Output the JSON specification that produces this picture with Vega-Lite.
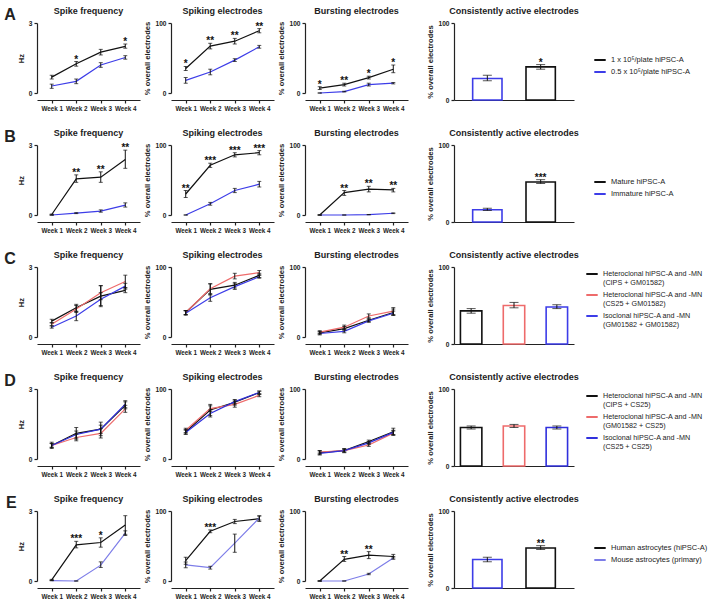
{
"$schema":"https://vega.github.io/schema/vega-lite/v6.json",
"padding":{"left":4,"top":7,"right":2,"bottom":2},
"config":{"font":"Liberation Sans","view":{"stroke":null},
"axis":{"grid":false,"domainColor":"#222","tickColor":"#222","labelColor":"#222","titleColor":"#222","labelFontSize":6.6,"labelFontWeight":"bold","titleFontSize":7.6,"titleFontWeight":"bold","tickSize":3,"domainWidth":1.2,"tickWidth":1.2,"labelPadding":2,"titlePadding":3},
"axisX":{"labelAngle":0,"labelFontSize":6.3},
"title":{"fontSize":9,"fontWeight":"bold","offset":4,"color":"#222","frame":"group"},
"legend":{"symbolType":"stroke","symbolStrokeWidth":2,"symbolSize":130,"labelFontSize":7.5,"labelColor":"#222","title":null,"offset":14,"rowPadding":1,"labelLimit":200}},
"resolve":{"scale":{"stroke":"independent","color":"independent"},"legend":{"stroke":"independent","color":"independent"}},
"spacing":17,
"datasets":{
"A":[
{"m":"f","s":"1 x 10⁵/plate hiPSC-A","w":"Week 1","v":0.68,"lo":0.6,"hi":0.76,"sig":""},
{"m":"f","s":"1 x 10⁵/plate hiPSC-A","w":"Week 2","v":1.25,"lo":1.15,"hi":1.35,"sig":"*"},
{"m":"f","s":"1 x 10⁵/plate hiPSC-A","w":"Week 3","v":1.75,"lo":1.63,"hi":1.87,"sig":""},
{"m":"f","s":"1 x 10⁵/plate hiPSC-A","w":"Week 4","v":2.0,"lo":1.92,"hi":2.1,"sig":"*"},
{"m":"f","s":"0.5 x 10⁵/plate hiPSC-A","w":"Week 1","v":0.3,"lo":0.2,"hi":0.38,"sig":""},
{"m":"f","s":"0.5 x 10⁵/plate hiPSC-A","w":"Week 2","v":0.5,"lo":0.4,"hi":0.6,"sig":""},
{"m":"f","s":"0.5 x 10⁵/plate hiPSC-A","w":"Week 3","v":1.2,"lo":1.1,"hi":1.3,"sig":""},
{"m":"f","s":"0.5 x 10⁵/plate hiPSC-A","w":"Week 4","v":1.52,"lo":1.45,"hi":1.6,"sig":""},
{"m":"p","s":"1 x 10⁵/plate hiPSC-A","w":"Week 1","v":35,"lo":32,"hi":38,"sig":"*"},
{"m":"p","s":"1 x 10⁵/plate hiPSC-A","w":"Week 2","v":67,"lo":63,"hi":71,"sig":"**"},
{"m":"p","s":"1 x 10⁵/plate hiPSC-A","w":"Week 3","v":74,"lo":70,"hi":78,"sig":"**"},
{"m":"p","s":"1 x 10⁵/plate hiPSC-A","w":"Week 4","v":89,"lo":86,"hi":92,"sig":"**"},
{"m":"p","s":"0.5 x 10⁵/plate hiPSC-A","w":"Week 1","v":18,"lo":14,"hi":22,"sig":""},
{"m":"p","s":"0.5 x 10⁵/plate hiPSC-A","w":"Week 2","v":30,"lo":26,"hi":34,"sig":""},
{"m":"p","s":"0.5 x 10⁵/plate hiPSC-A","w":"Week 3","v":47,"lo":45,"hi":49,"sig":""},
{"m":"p","s":"0.5 x 10⁵/plate hiPSC-A","w":"Week 4","v":66,"lo":64,"hi":68,"sig":""},
{"m":"b","s":"1 x 10⁵/plate hiPSC-A","w":"Week 1","v":7,"lo":5,"hi":9,"sig":"*"},
{"m":"b","s":"1 x 10⁵/plate hiPSC-A","w":"Week 2","v":12,"lo":10,"hi":14,"sig":"**"},
{"m":"b","s":"1 x 10⁵/plate hiPSC-A","w":"Week 3","v":22,"lo":20,"hi":24,"sig":"*"},
{"m":"b","s":"1 x 10⁵/plate hiPSC-A","w":"Week 4","v":34,"lo":29,"hi":40,"sig":"*"},
{"m":"b","s":"0.5 x 10⁵/plate hiPSC-A","w":"Week 1","v":0,"lo":0,"hi":0,"sig":""},
{"m":"b","s":"0.5 x 10⁵/plate hiPSC-A","w":"Week 2","v":2,"lo":1.5,"hi":2.5,"sig":""},
{"m":"b","s":"0.5 x 10⁵/plate hiPSC-A","w":"Week 3","v":12,"lo":10,"hi":14,"sig":""},
{"m":"b","s":"0.5 x 10⁵/plate hiPSC-A","w":"Week 4","v":14,"lo":13,"hi":15,"sig":""}],
"Ab":[
{"s":"0.5 x 10⁵/plate hiPSC-A","v":28,"lo":25,"hi":32,"sig":""},
{"s":"1 x 10⁵/plate hiPSC-A","v":43,"lo":40,"hi":46,"sig":"*"}],
"B":[
{"m":"f","s":"Mature hiPSC-A","w":"Week 1","v":0.02,"lo":0,"hi":0.04,"sig":""},
{"m":"f","s":"Mature hiPSC-A","w":"Week 2","v":1.55,"lo":1.4,"hi":1.72,"sig":"**"},
{"m":"f","s":"Mature hiPSC-A","w":"Week 3","v":1.62,"lo":1.4,"hi":1.85,"sig":"**"},
{"m":"f","s":"Mature hiPSC-A","w":"Week 4","v":2.38,"lo":2.0,"hi":2.78,"sig":"**"},
{"m":"f","s":"Immature hiPSC-A","w":"Week 1","v":0,"lo":0,"hi":0,"sig":""},
{"m":"f","s":"Immature hiPSC-A","w":"Week 2","v":0.08,"lo":0.06,"hi":0.1,"sig":""},
{"m":"f","s":"Immature hiPSC-A","w":"Week 3","v":0.17,"lo":0.12,"hi":0.22,"sig":""},
{"m":"f","s":"Immature hiPSC-A","w":"Week 4","v":0.42,"lo":0.34,"hi":0.52,"sig":""},
{"m":"p","s":"Mature hiPSC-A","w":"Week 1","v":30,"lo":25,"hi":35,"sig":"**"},
{"m":"p","s":"Mature hiPSC-A","w":"Week 2","v":71,"lo":68,"hi":74,"sig":"***"},
{"m":"p","s":"Mature hiPSC-A","w":"Week 3","v":86,"lo":83,"hi":89,"sig":"***"},
{"m":"p","s":"Mature hiPSC-A","w":"Week 4","v":89,"lo":86,"hi":92,"sig":"***"},
{"m":"p","s":"Immature hiPSC-A","w":"Week 1","v":0,"lo":0,"hi":0,"sig":""},
{"m":"p","s":"Immature hiPSC-A","w":"Week 2","v":16,"lo":14,"hi":18,"sig":""},
{"m":"p","s":"Immature hiPSC-A","w":"Week 3","v":35,"lo":32,"hi":38,"sig":""},
{"m":"p","s":"Immature hiPSC-A","w":"Week 4","v":44,"lo":40,"hi":48,"sig":""},
{"m":"b","s":"Mature hiPSC-A","w":"Week 1","v":0,"lo":0,"hi":0,"sig":""},
{"m":"b","s":"Mature hiPSC-A","w":"Week 2","v":32,"lo":28,"hi":35,"sig":"**"},
{"m":"b","s":"Mature hiPSC-A","w":"Week 3","v":37,"lo":33,"hi":41,"sig":"**"},
{"m":"b","s":"Mature hiPSC-A","w":"Week 4","v":36,"lo":33,"hi":38,"sig":"**"},
{"m":"b","s":"Immature hiPSC-A","w":"Week 1","v":0,"lo":0,"hi":0,"sig":""},
{"m":"b","s":"Immature hiPSC-A","w":"Week 2","v":0,"lo":0,"hi":0,"sig":""},
{"m":"b","s":"Immature hiPSC-A","w":"Week 3","v":0.5,"lo":0.3,"hi":0.7,"sig":""},
{"m":"b","s":"Immature hiPSC-A","w":"Week 4","v":2.5,"lo":2,"hi":3,"sig":""}],
"Bb":[
{"s":"Immature hiPSC-A","v":16,"lo":15,"hi":18,"sig":""},
{"s":"Mature hiPSC-A","v":52,"lo":50,"hi":55,"sig":"***"}],
"C":[
{"m":"f","s":"Heteroclonal hiPSC-A and -MN (CIPS + GM01582)","w":"Week 1","v":0.68,"lo":0.6,"hi":0.76},
{"m":"f","s":"Heteroclonal hiPSC-A and -MN (CIPS + GM01582)","w":"Week 2","v":1.25,"lo":1.1,"hi":1.4},
{"m":"f","s":"Heteroclonal hiPSC-A and -MN (CIPS + GM01582)","w":"Week 3","v":1.75,"lo":1.3,"hi":2.2},
{"m":"f","s":"Heteroclonal hiPSC-A and -MN (CIPS + GM01582)","w":"Week 4","v":2.0,"lo":1.9,"hi":2.12},
{"m":"f","s":"Heteroclonal hiPSC-A and -MN (CS25 + GM01582)","w":"Week 1","v":0.55,"lo":0.48,"hi":0.62},
{"m":"f","s":"Heteroclonal hiPSC-A and -MN (CS25 + GM01582)","w":"Week 2","v":1.2,"lo":1.05,"hi":1.35},
{"m":"f","s":"Heteroclonal hiPSC-A and -MN (CS25 + GM01582)","w":"Week 3","v":1.9,"lo":1.6,"hi":2.2},
{"m":"f","s":"Heteroclonal hiPSC-A and -MN (CS25 + GM01582)","w":"Week 4","v":2.38,"lo":2.1,"hi":2.65},
{"m":"f","s":"Isoclonal hiPSC-A and -MN (GM01582 + GM01582)","w":"Week 1","v":0.42,"lo":0.38,"hi":0.48},
{"m":"f","s":"Isoclonal hiPSC-A and -MN (GM01582 + GM01582)","w":"Week 2","v":0.9,"lo":0.7,"hi":1.1},
{"m":"f","s":"Isoclonal hiPSC-A and -MN (GM01582 + GM01582)","w":"Week 3","v":1.62,"lo":1.35,"hi":1.9},
{"m":"f","s":"Isoclonal hiPSC-A and -MN (GM01582 + GM01582)","w":"Week 4","v":2.18,"lo":2.05,"hi":2.3},
{"m":"p","s":"Heteroclonal hiPSC-A and -MN (CIPS + GM01582)","w":"Week 1","v":35,"lo":32,"hi":38},
{"m":"p","s":"Heteroclonal hiPSC-A and -MN (CIPS + GM01582)","w":"Week 2","v":68,"lo":60,"hi":76},
{"m":"p","s":"Heteroclonal hiPSC-A and -MN (CIPS + GM01582)","w":"Week 3","v":74,"lo":70,"hi":78},
{"m":"p","s":"Heteroclonal hiPSC-A and -MN (CIPS + GM01582)","w":"Week 4","v":88,"lo":85,"hi":91},
{"m":"p","s":"Heteroclonal hiPSC-A and -MN (CS25 + GM01582)","w":"Week 1","v":35,"lo":32,"hi":38},
{"m":"p","s":"Heteroclonal hiPSC-A and -MN (CS25 + GM01582)","w":"Week 2","v":69,"lo":62,"hi":76},
{"m":"p","s":"Heteroclonal hiPSC-A and -MN (CS25 + GM01582)","w":"Week 3","v":87,"lo":83,"hi":91},
{"m":"p","s":"Heteroclonal hiPSC-A and -MN (CS25 + GM01582)","w":"Week 4","v":92,"lo":89,"hi":95},
{"m":"p","s":"Isoclonal hiPSC-A and -MN (GM01582 + GM01582)","w":"Week 1","v":34,"lo":31,"hi":37},
{"m":"p","s":"Isoclonal hiPSC-A and -MN (GM01582 + GM01582)","w":"Week 2","v":56,"lo":51,"hi":61},
{"m":"p","s":"Isoclonal hiPSC-A and -MN (GM01582 + GM01582)","w":"Week 3","v":72,"lo":68,"hi":76},
{"m":"p","s":"Isoclonal hiPSC-A and -MN (GM01582 + GM01582)","w":"Week 4","v":86,"lo":84,"hi":88},
{"m":"b","s":"Heteroclonal hiPSC-A and -MN (CIPS + GM01582)","w":"Week 1","v":6,"lo":4,"hi":8},
{"m":"b","s":"Heteroclonal hiPSC-A and -MN (CIPS + GM01582)","w":"Week 2","v":12,"lo":10,"hi":15},
{"m":"b","s":"Heteroclonal hiPSC-A and -MN (CIPS + GM01582)","w":"Week 3","v":24,"lo":22,"hi":27},
{"m":"b","s":"Heteroclonal hiPSC-A and -MN (CIPS + GM01582)","w":"Week 4","v":35,"lo":31,"hi":40},
{"m":"b","s":"Heteroclonal hiPSC-A and -MN (CS25 + GM01582)","w":"Week 1","v":7,"lo":5,"hi":9},
{"m":"b","s":"Heteroclonal hiPSC-A and -MN (CS25 + GM01582)","w":"Week 2","v":14,"lo":11,"hi":17},
{"m":"b","s":"Heteroclonal hiPSC-A and -MN (CS25 + GM01582)","w":"Week 3","v":30,"lo":27,"hi":33},
{"m":"b","s":"Heteroclonal hiPSC-A and -MN (CS25 + GM01582)","w":"Week 4","v":37,"lo":32,"hi":42},
{"m":"b","s":"Isoclonal hiPSC-A and -MN (GM01582 + GM01582)","w":"Week 1","v":5,"lo":3,"hi":7},
{"m":"b","s":"Isoclonal hiPSC-A and -MN (GM01582 + GM01582)","w":"Week 2","v":8,"lo":6,"hi":10},
{"m":"b","s":"Isoclonal hiPSC-A and -MN (GM01582 + GM01582)","w":"Week 3","v":23,"lo":21,"hi":25},
{"m":"b","s":"Isoclonal hiPSC-A and -MN (GM01582 + GM01582)","w":"Week 4","v":34,"lo":31,"hi":37}],
"Cb":[
{"s":"Heteroclonal hiPSC-A and -MN (CIPS + GM01582)","v":43,"lo":40,"hi":46},
{"s":"Heteroclonal hiPSC-A and -MN (CS25 + GM01582)","v":50,"lo":47,"hi":54},
{"s":"Isoclonal hiPSC-A and -MN (GM01582 + GM01582)","v":48,"lo":46,"hi":51}],
"D":[
{"m":"f","s":"Heteroclonal hiPSC-A and -MN (CIPS + CS25)","w":"Week 1","v":0.58,"lo":0.45,"hi":0.72},
{"m":"f","s":"Heteroclonal hiPSC-A and -MN (CIPS + CS25)","w":"Week 2","v":1.1,"lo":0.85,"hi":1.35},
{"m":"f","s":"Heteroclonal hiPSC-A and -MN (CIPS + CS25)","w":"Week 3","v":1.28,"lo":1.0,"hi":1.58},
{"m":"f","s":"Heteroclonal hiPSC-A and -MN (CIPS + CS25)","w":"Week 4","v":2.3,"lo":2.15,"hi":2.45},
{"m":"f","s":"Heteroclonal hiPSC-A and -MN (GM01582 + CS25)","w":"Week 1","v":0.58,"lo":0.5,"hi":0.66},
{"m":"f","s":"Heteroclonal hiPSC-A and -MN (GM01582 + CS25)","w":"Week 2","v":0.92,"lo":0.78,"hi":1.06},
{"m":"f","s":"Heteroclonal hiPSC-A and -MN (GM01582 + CS25)","w":"Week 3","v":1.1,"lo":0.9,"hi":1.3},
{"m":"f","s":"Heteroclonal hiPSC-A and -MN (GM01582 + CS25)","w":"Week 4","v":2.15,"lo":2.0,"hi":2.3},
{"m":"f","s":"Isoclonal hiPSC-A and -MN (CS25 + CS25)","w":"Week 1","v":0.58,"lo":0.5,"hi":0.66},
{"m":"f","s":"Isoclonal hiPSC-A and -MN (CS25 + CS25)","w":"Week 2","v":1.05,"lo":0.9,"hi":1.2},
{"m":"f","s":"Isoclonal hiPSC-A and -MN (CS25 + CS25)","w":"Week 3","v":1.28,"lo":1.1,"hi":1.45},
{"m":"f","s":"Isoclonal hiPSC-A and -MN (CS25 + CS25)","w":"Week 4","v":2.35,"lo":2.2,"hi":2.5},
{"m":"p","s":"Heteroclonal hiPSC-A and -MN (CIPS + CS25)","w":"Week 1","v":39,"lo":36,"hi":42},
{"m":"p","s":"Heteroclonal hiPSC-A and -MN (CIPS + CS25)","w":"Week 2","v":70,"lo":62,"hi":78},
{"m":"p","s":"Heteroclonal hiPSC-A and -MN (CIPS + CS25)","w":"Week 3","v":81,"lo":77,"hi":84},
{"m":"p","s":"Heteroclonal hiPSC-A and -MN (CIPS + CS25)","w":"Week 4","v":95,"lo":92,"hi":97},
{"m":"p","s":"Heteroclonal hiPSC-A and -MN (GM01582 + CS25)","w":"Week 1","v":41,"lo":38,"hi":44},
{"m":"p","s":"Heteroclonal hiPSC-A and -MN (GM01582 + CS25)","w":"Week 2","v":72,"lo":68,"hi":76},
{"m":"p","s":"Heteroclonal hiPSC-A and -MN (GM01582 + CS25)","w":"Week 3","v":78,"lo":74,"hi":82},
{"m":"p","s":"Heteroclonal hiPSC-A and -MN (GM01582 + CS25)","w":"Week 4","v":91,"lo":89,"hi":93},
{"m":"p","s":"Isoclonal hiPSC-A and -MN (CS25 + CS25)","w":"Week 1","v":38,"lo":35,"hi":41},
{"m":"p","s":"Isoclonal hiPSC-A and -MN (CS25 + CS25)","w":"Week 2","v":65,"lo":60,"hi":70},
{"m":"p","s":"Isoclonal hiPSC-A and -MN (CS25 + CS25)","w":"Week 3","v":82,"lo":79,"hi":85},
{"m":"p","s":"Isoclonal hiPSC-A and -MN (CS25 + CS25)","w":"Week 4","v":95,"lo":93,"hi":97},
{"m":"b","s":"Heteroclonal hiPSC-A and -MN (CIPS + CS25)","w":"Week 1","v":9,"lo":6,"hi":12},
{"m":"b","s":"Heteroclonal hiPSC-A and -MN (CIPS + CS25)","w":"Week 2","v":12,"lo":9,"hi":15},
{"m":"b","s":"Heteroclonal hiPSC-A and -MN (CIPS + CS25)","w":"Week 3","v":25,"lo":23,"hi":27},
{"m":"b","s":"Heteroclonal hiPSC-A and -MN (CIPS + CS25)","w":"Week 4","v":39,"lo":34,"hi":44},
{"m":"b","s":"Heteroclonal hiPSC-A and -MN (GM01582 + CS25)","w":"Week 1","v":10,"lo":8,"hi":12},
{"m":"b","s":"Heteroclonal hiPSC-A and -MN (GM01582 + CS25)","w":"Week 2","v":12,"lo":10,"hi":14},
{"m":"b","s":"Heteroclonal hiPSC-A and -MN (GM01582 + CS25)","w":"Week 3","v":20,"lo":18,"hi":22},
{"m":"b","s":"Heteroclonal hiPSC-A and -MN (GM01582 + CS25)","w":"Week 4","v":37,"lo":34,"hi":40},
{"m":"b","s":"Isoclonal hiPSC-A and -MN (CS25 + CS25)","w":"Week 1","v":8,"lo":6,"hi":10},
{"m":"b","s":"Isoclonal hiPSC-A and -MN (CS25 + CS25)","w":"Week 2","v":12,"lo":10,"hi":14},
{"m":"b","s":"Isoclonal hiPSC-A and -MN (CS25 + CS25)","w":"Week 3","v":23,"lo":21,"hi":25},
{"m":"b","s":"Isoclonal hiPSC-A and -MN (CS25 + CS25)","w":"Week 4","v":38,"lo":35,"hi":41}],
"Db":[
{"s":"Heteroclonal hiPSC-A and -MN (CIPS + CS25)","v":50,"lo":48,"hi":52},
{"s":"Heteroclonal hiPSC-A and -MN (GM01582 + CS25)","v":52,"lo":50,"hi":54},
{"s":"Isoclonal hiPSC-A and -MN (CS25 + CS25)","v":50,"lo":48,"hi":52}],
"E":[
{"m":"f","s":"Human astrocytes (hiPSC-A)","w":"Week 1","v":0.05,"lo":0.03,"hi":0.07,"sig":""},
{"m":"f","s":"Human astrocytes (hiPSC-A)","w":"Week 2","v":1.55,"lo":1.42,"hi":1.7,"sig":"***"},
{"m":"f","s":"Human astrocytes (hiPSC-A)","w":"Week 3","v":1.65,"lo":1.45,"hi":1.85,"sig":"*"},
{"m":"f","s":"Human astrocytes (hiPSC-A)","w":"Week 4","v":2.4,"lo":2.0,"hi":2.8,"sig":""},
{"m":"f","s":"Mouse astrocytes (primary)","w":"Week 1","v":0.02,"lo":0.01,"hi":0.03,"sig":""},
{"m":"f","s":"Mouse astrocytes (primary)","w":"Week 2","v":0,"lo":0,"hi":0,"sig":""},
{"m":"f","s":"Mouse astrocytes (primary)","w":"Week 3","v":0.68,"lo":0.58,"hi":0.82,"sig":""},
{"m":"f","s":"Mouse astrocytes (primary)","w":"Week 4","v":2.05,"lo":1.95,"hi":2.15,"sig":""},
{"m":"p","s":"Human astrocytes (hiPSC-A)","w":"Week 1","v":29,"lo":24,"hi":34,"sig":""},
{"m":"p","s":"Human astrocytes (hiPSC-A)","w":"Week 2","v":71,"lo":69,"hi":73,"sig":"***"},
{"m":"p","s":"Human astrocytes (hiPSC-A)","w":"Week 3","v":85,"lo":82,"hi":88,"sig":""},
{"m":"p","s":"Human astrocytes (hiPSC-A)","w":"Week 4","v":89,"lo":85,"hi":93,"sig":""},
{"m":"p","s":"Mouse astrocytes (primary)","w":"Week 1","v":23,"lo":19,"hi":27,"sig":""},
{"m":"p","s":"Mouse astrocytes (primary)","w":"Week 2","v":19,"lo":17,"hi":21,"sig":""},
{"m":"p","s":"Mouse astrocytes (primary)","w":"Week 3","v":54,"lo":41,"hi":67,"sig":""},
{"m":"p","s":"Mouse astrocytes (primary)","w":"Week 4","v":90,"lo":87,"hi":93,"sig":""},
{"m":"b","s":"Human astrocytes (hiPSC-A)","w":"Week 1","v":0,"lo":0,"hi":0,"sig":""},
{"m":"b","s":"Human astrocytes (hiPSC-A)","w":"Week 2","v":31,"lo":28,"hi":35,"sig":"**"},
{"m":"b","s":"Human astrocytes (hiPSC-A)","w":"Week 3","v":37,"lo":32,"hi":42,"sig":"**"},
{"m":"b","s":"Human astrocytes (hiPSC-A)","w":"Week 4","v":35,"lo":33,"hi":38,"sig":""},
{"m":"b","s":"Mouse astrocytes (primary)","w":"Week 1","v":0,"lo":0,"hi":0,"sig":""},
{"m":"b","s":"Mouse astrocytes (primary)","w":"Week 2","v":0,"lo":0,"hi":0,"sig":""},
{"m":"b","s":"Mouse astrocytes (primary)","w":"Week 3","v":10,"lo":9,"hi":11,"sig":""},
{"m":"b","s":"Mouse astrocytes (primary)","w":"Week 4","v":33,"lo":31,"hi":35,"sig":""}],
"Eb":[
{"s":"Mouse astrocytes (primary)","v":37,"lo":34,"hi":40,"sig":""},
{"s":"Human astrocytes (hiPSC-A)","v":52,"lo":50,"hi":55,"sig":"**"}]
},
"vconcat":[
{"title":{"text":"A","orient":"left","anchor":"end","angle":0,"fontSize":16,"fontWeight":"bold","offset":-10,"align":"right","baseline":"top","frame":"bounds"},"spacing":18,
"hconcat":[{"spacing":3,"hconcat":[
{"title":"Spike frequency","width":103,"height":70,"data":{"name":"A"},"transform":[{"filter":"datum.m=='f'"}],
"encoding":{"x":{"field":"w","type":"ordinal","scale":{"type":"point","padding":0.6},"axis":{"title":null,"offset":7}}},
"layer":[
{"mark":{"type":"line","strokeWidth":1.2},"encoding":{"y":{"field":"v","type":"quantitative","title":"Hz","scale":{"domain":[0,3],"nice":false},"axis":{"values":[0,1,2,3]}},"stroke":{"field":"s","type":"nominal","scale":{"domain":["1 x 10⁵/plate hiPSC-A","0.5 x 10⁵/plate hiPSC-A"],"range":["#111111","#3d3de8"]}}}},
{"mark":{"type":"errorbar","ticks":{"size":4},"color":"#111"},"encoding":{"y":{"field":"lo","type":"quantitative","title":"Hz"},"y2":{"field":"hi"},"detail":{"field":"s"}}},
{"transform":[{"filter":"datum.sig!=''"}],"mark":{"type":"text","dy":-2,"fontSize":10,"fontWeight":"bold","color":"#111"},"encoding":{"y":{"field":"hi","type":"quantitative","title":"Hz"},"text":{"field":"sig"}}}]},
{"title":"Spiking electrodes","width":103,"height":70,"data":{"name":"A"},"transform":[{"filter":"datum.m=='p'"}],
"encoding":{"x":{"field":"w","type":"ordinal","scale":{"type":"point","padding":0.6},"axis":{"title":null,"offset":7}}},
"layer":[
{"mark":{"type":"line","strokeWidth":1.2},"encoding":{"y":{"field":"v","type":"quantitative","title":"% overall electrodes","scale":{"domain":[0,100],"nice":false},"axis":{"values":[0,20,40,60,80,100]}},"stroke":{"field":"s","type":"nominal","scale":{"domain":["1 x 10⁵/plate hiPSC-A","0.5 x 10⁵/plate hiPSC-A"],"range":["#111111","#3d3de8"]}}}},
{"mark":{"type":"errorbar","ticks":{"size":4},"color":"#111"},"encoding":{"y":{"field":"lo","type":"quantitative","title":"% overall electrodes"},"y2":{"field":"hi"},"detail":{"field":"s"}}},
{"transform":[{"filter":"datum.sig!=''"}],"mark":{"type":"text","dy":-2,"fontSize":10,"fontWeight":"bold","color":"#111"},"encoding":{"y":{"field":"hi","type":"quantitative","title":"% overall electrodes"},"text":{"field":"sig"}}}]},
{"title":"Bursting electrodes","width":103,"height":70,"data":{"name":"A"},"transform":[{"filter":"datum.m=='b'"}],
"encoding":{"x":{"field":"w","type":"ordinal","scale":{"type":"point","padding":0.6},"axis":{"title":null,"offset":7}}},
"layer":[
{"mark":{"type":"line","strokeWidth":1.2},"encoding":{"y":{"field":"v","type":"quantitative","title":"% overall electrodes","scale":{"domain":[0,100],"nice":false},"axis":{"values":[0,20,40,60,80,100]}},"stroke":{"field":"s","type":"nominal","scale":{"domain":["1 x 10⁵/plate hiPSC-A","0.5 x 10⁵/plate hiPSC-A"],"range":["#111111","#3d3de8"]}}}},
{"mark":{"type":"errorbar","ticks":{"size":4},"color":"#111"},"encoding":{"y":{"field":"lo","type":"quantitative","title":"% overall electrodes"},"y2":{"field":"hi"},"detail":{"field":"s"}}},
{"transform":[{"filter":"datum.sig!=''"}],"mark":{"type":"text","dy":-2,"fontSize":10,"fontWeight":"bold","color":"#111"},"encoding":{"y":{"field":"hi","type":"quantitative","title":"% overall electrodes"},"text":{"field":"sig"}}}]}]},
{"title":"Consistently active electrodes","width":120,"height":77,"data":{"name":"Ab"},
"encoding":{"x":{"field":"s","type":"nominal","sort":["0.5 x 10⁵/plate hiPSC-A","1 x 10⁵/plate hiPSC-A"],"scale":{"paddingInner":0.45,"paddingOuter":0.35},"axis":{"title":null,"labels":false,"ticks":false}}},
"layer":[
{"mark":{"type":"bar","fill":"white","strokeWidth":1.6},"encoding":{"y":{"field":"v","type":"quantitative","title":"% overall electrodes","scale":{"domain":[0,100],"nice":false},"axis":{"values":[0,20,40,60,80,100]}},"stroke":{"field":"s","type":"nominal","scale":{"domain":["1 x 10⁵/plate hiPSC-A","0.5 x 10⁵/plate hiPSC-A"],"range":["#111111","#3d3de8"]},"legend":{"title":" ","titleFontSize":26,"titlePadding":4}}}},
{"mark":{"type":"errorbar","ticks":{"size":9},"color":"#111"},"encoding":{"y":{"field":"lo","type":"quantitative","title":"% overall electrodes"},"y2":{"field":"hi"}}},
{"transform":[{"filter":"datum.sig!=''"}],"mark":{"type":"text","dy":-2,"fontSize":10,"fontWeight":"bold","color":"#111"},"encoding":{"y":{"field":"hi","type":"quantitative","title":"% overall electrodes"},"text":{"field":"sig"}}}]}
]},
{"title":{"text":"B","orient":"left","anchor":"end","angle":0,"fontSize":16,"fontWeight":"bold","offset":-10,"align":"right","baseline":"top","frame":"bounds"},"spacing":18,
"hconcat":[{"spacing":3,"hconcat":[
{"title":"Spike frequency","width":103,"height":70,"data":{"name":"B"},"transform":[{"filter":"datum.m=='f'"}],
"encoding":{"x":{"field":"w","type":"ordinal","scale":{"type":"point","padding":0.6},"axis":{"title":null,"offset":7}}},
"layer":[
{"mark":{"type":"line","strokeWidth":1.2},"encoding":{"y":{"field":"v","type":"quantitative","title":"Hz","scale":{"domain":[0,3],"nice":false},"axis":{"values":[0,1,2,3]}},"stroke":{"field":"s","type":"nominal","scale":{"domain":["Mature hiPSC-A","Immature hiPSC-A"],"range":["#111111","#3d3de8"]}}}},
{"mark":{"type":"errorbar","ticks":{"size":4},"color":"#111"},"encoding":{"y":{"field":"lo","type":"quantitative","title":"Hz"},"y2":{"field":"hi"},"detail":{"field":"s"}}},
{"transform":[{"filter":"datum.sig!=''"}],"mark":{"type":"text","dy":-2,"fontSize":10,"fontWeight":"bold","color":"#111"},"encoding":{"y":{"field":"hi","type":"quantitative","title":"Hz"},"text":{"field":"sig"}}}]},
{"title":"Spiking electrodes","width":103,"height":70,"data":{"name":"B"},"transform":[{"filter":"datum.m=='p'"}],
"encoding":{"x":{"field":"w","type":"ordinal","scale":{"type":"point","padding":0.6},"axis":{"title":null,"offset":7}}},
"layer":[
{"mark":{"type":"line","strokeWidth":1.2},"encoding":{"y":{"field":"v","type":"quantitative","title":"% overall electrodes","scale":{"domain":[0,100],"nice":false},"axis":{"values":[0,20,40,60,80,100]}},"stroke":{"field":"s","type":"nominal","scale":{"domain":["Mature hiPSC-A","Immature hiPSC-A"],"range":["#111111","#3d3de8"]}}}},
{"mark":{"type":"errorbar","ticks":{"size":4},"color":"#111"},"encoding":{"y":{"field":"lo","type":"quantitative","title":"% overall electrodes"},"y2":{"field":"hi"},"detail":{"field":"s"}}},
{"transform":[{"filter":"datum.sig!=''"}],"mark":{"type":"text","dy":-2,"fontSize":10,"fontWeight":"bold","color":"#111"},"encoding":{"y":{"field":"hi","type":"quantitative","title":"% overall electrodes"},"text":{"field":"sig"}}}]},
{"title":"Bursting electrodes","width":103,"height":70,"data":{"name":"B"},"transform":[{"filter":"datum.m=='b'"}],
"encoding":{"x":{"field":"w","type":"ordinal","scale":{"type":"point","padding":0.6},"axis":{"title":null,"offset":7}}},
"layer":[
{"mark":{"type":"line","strokeWidth":1.2},"encoding":{"y":{"field":"v","type":"quantitative","title":"% overall electrodes","scale":{"domain":[0,100],"nice":false},"axis":{"values":[0,20,40,60,80,100]}},"stroke":{"field":"s","type":"nominal","scale":{"domain":["Mature hiPSC-A","Immature hiPSC-A"],"range":["#111111","#3d3de8"]}}}},
{"mark":{"type":"errorbar","ticks":{"size":4},"color":"#111"},"encoding":{"y":{"field":"lo","type":"quantitative","title":"% overall electrodes"},"y2":{"field":"hi"},"detail":{"field":"s"}}},
{"transform":[{"filter":"datum.sig!=''"}],"mark":{"type":"text","dy":-2,"fontSize":10,"fontWeight":"bold","color":"#111"},"encoding":{"y":{"field":"hi","type":"quantitative","title":"% overall electrodes"},"text":{"field":"sig"}}}]}]},
{"title":"Consistently active electrodes","width":120,"height":77,"data":{"name":"Bb"},
"encoding":{"x":{"field":"s","type":"nominal","sort":["Immature hiPSC-A","Mature hiPSC-A"],"scale":{"paddingInner":0.45,"paddingOuter":0.35},"axis":{"title":null,"labels":false,"ticks":false}}},
"layer":[
{"mark":{"type":"bar","fill":"white","strokeWidth":1.6},"encoding":{"y":{"field":"v","type":"quantitative","title":"% overall electrodes","scale":{"domain":[0,100],"nice":false},"axis":{"values":[0,20,40,60,80,100]}},"stroke":{"field":"s","type":"nominal","scale":{"domain":["Mature hiPSC-A","Immature hiPSC-A"],"range":["#111111","#3d3de8"]},"legend":{"title":" ","titleFontSize":26,"titlePadding":4}}}},
{"mark":{"type":"errorbar","ticks":{"size":9},"color":"#111"},"encoding":{"y":{"field":"lo","type":"quantitative","title":"% overall electrodes"},"y2":{"field":"hi"}}},
{"transform":[{"filter":"datum.sig!=''"}],"mark":{"type":"text","dy":-2,"fontSize":10,"fontWeight":"bold","color":"#111"},"encoding":{"y":{"field":"hi","type":"quantitative","title":"% overall electrodes"},"text":{"field":"sig"}}}]}
]},
{"title":{"text":"C","orient":"left","anchor":"end","angle":0,"fontSize":16,"fontWeight":"bold","offset":-10,"align":"right","baseline":"top","frame":"bounds"},"spacing":18,
"hconcat":[{"spacing":3,"hconcat":[
{"title":"Spike frequency","width":103,"height":70,"data":{"name":"C"},"transform":[{"filter":"datum.m=='f'"}],
"encoding":{"x":{"field":"w","type":"ordinal","scale":{"type":"point","padding":0.6},"axis":{"title":null,"offset":7}}},
"layer":[
{"mark":{"type":"line","strokeWidth":1.2},"encoding":{"y":{"field":"v","type":"quantitative","title":"Hz","scale":{"domain":[0,3],"nice":false},"axis":{"values":[0,1,2,3]}},"stroke":{"field":"s","type":"nominal","scale":{"domain":["Heteroclonal hiPSC-A and -MN (CIPS + GM01582)","Heteroclonal hiPSC-A and -MN (CS25 + GM01582)","Isoclonal hiPSC-A and -MN (GM01582 + GM01582)"],"range":["#111111","#ee6b6b","#3d3de8"]}}}},
{"mark":{"type":"errorbar","ticks":{"size":4},"color":"#111"},"encoding":{"y":{"field":"lo","type":"quantitative","title":"Hz"},"y2":{"field":"hi"},"detail":{"field":"s"}}}]},
{"title":"Spiking electrodes","width":103,"height":70,"data":{"name":"C"},"transform":[{"filter":"datum.m=='p'"}],
"encoding":{"x":{"field":"w","type":"ordinal","scale":{"type":"point","padding":0.6},"axis":{"title":null,"offset":7}}},
"layer":[
{"mark":{"type":"line","strokeWidth":1.2},"encoding":{"y":{"field":"v","type":"quantitative","title":"% overall electrodes","scale":{"domain":[0,100],"nice":false},"axis":{"values":[0,20,40,60,80,100]}},"stroke":{"field":"s","type":"nominal","scale":{"domain":["Heteroclonal hiPSC-A and -MN (CIPS + GM01582)","Heteroclonal hiPSC-A and -MN (CS25 + GM01582)","Isoclonal hiPSC-A and -MN (GM01582 + GM01582)"],"range":["#111111","#ee6b6b","#3d3de8"]}}}},
{"mark":{"type":"errorbar","ticks":{"size":4},"color":"#111"},"encoding":{"y":{"field":"lo","type":"quantitative","title":"% overall electrodes"},"y2":{"field":"hi"},"detail":{"field":"s"}}}]},
{"title":"Bursting electrodes","width":103,"height":70,"data":{"name":"C"},"transform":[{"filter":"datum.m=='b'"}],
"encoding":{"x":{"field":"w","type":"ordinal","scale":{"type":"point","padding":0.6},"axis":{"title":null,"offset":7}}},
"layer":[
{"mark":{"type":"line","strokeWidth":1.2},"encoding":{"y":{"field":"v","type":"quantitative","title":"% overall electrodes","scale":{"domain":[0,100],"nice":false},"axis":{"values":[0,20,40,60,80,100]}},"stroke":{"field":"s","type":"nominal","scale":{"domain":["Heteroclonal hiPSC-A and -MN (CIPS + GM01582)","Heteroclonal hiPSC-A and -MN (CS25 + GM01582)","Isoclonal hiPSC-A and -MN (GM01582 + GM01582)"],"range":["#111111","#ee6b6b","#3d3de8"]}}}},
{"mark":{"type":"errorbar","ticks":{"size":4},"color":"#111"},"encoding":{"y":{"field":"lo","type":"quantitative","title":"% overall electrodes"},"y2":{"field":"hi"},"detail":{"field":"s"}}}]}]},
{"title":"Consistently active electrodes","width":120,"height":77,"data":{"name":"Cb"},
"encoding":{"x":{"field":"s","type":"nominal","sort":["Heteroclonal hiPSC-A and -MN (CIPS + GM01582)","Heteroclonal hiPSC-A and -MN (CS25 + GM01582)","Isoclonal hiPSC-A and -MN (GM01582 + GM01582)"],"scale":{"paddingInner":0.5,"paddingOuter":0.15},"axis":{"title":null,"labels":false,"ticks":false}}},
"layer":[
{"mark":{"type":"bar","fill":"white","strokeWidth":1.6},"encoding":{"y":{"field":"v","type":"quantitative","title":"% overall electrodes","scale":{"domain":[0,100],"nice":false},"axis":{"values":[0,20,40,60,80,100]}},"stroke":{"field":"s","type":"nominal","scale":{"domain":["Heteroclonal hiPSC-A and -MN (CIPS + GM01582)","Heteroclonal hiPSC-A and -MN (CS25 + GM01582)","Isoclonal hiPSC-A and -MN (GM01582 + GM01582)"],"range":["#111111","#ee6b6b","#3d3de8"]},"legend":{"offset":6,"labelFontSize":7.2,"labelExpr":"[slice(datum.label,0,indexof(datum.label,' (')), slice(datum.label,indexof(datum.label,' (')+1)]"}}}},
{"mark":{"type":"errorbar","ticks":{"size":9},"color":"#111"},"encoding":{"y":{"field":"lo","type":"quantitative","title":"% overall electrodes"},"y2":{"field":"hi"}}}]}
]},
{"title":{"text":"D","orient":"left","anchor":"end","angle":0,"fontSize":16,"fontWeight":"bold","offset":-10,"align":"right","baseline":"top","frame":"bounds"},"spacing":18,
"hconcat":[{"spacing":3,"hconcat":[
{"title":"Spike frequency","width":103,"height":70,"data":{"name":"D"},"transform":[{"filter":"datum.m=='f'"}],
"encoding":{"x":{"field":"w","type":"ordinal","scale":{"type":"point","padding":0.6},"axis":{"title":null,"offset":7}}},
"layer":[
{"mark":{"type":"line","strokeWidth":1.2},"encoding":{"y":{"field":"v","type":"quantitative","title":"Hz","scale":{"domain":[0,3],"nice":false},"axis":{"values":[0,1,2,3]}},"stroke":{"field":"s","type":"nominal","scale":{"domain":["Heteroclonal hiPSC-A and -MN (CIPS + CS25)","Heteroclonal hiPSC-A and -MN (GM01582 + CS25)","Isoclonal hiPSC-A and -MN (CS25 + CS25)"],"range":["#111111","#ee6b6b","#3030dd"]}}}},
{"mark":{"type":"errorbar","ticks":{"size":4},"color":"#111"},"encoding":{"y":{"field":"lo","type":"quantitative","title":"Hz"},"y2":{"field":"hi"},"detail":{"field":"s"}}}]},
{"title":"Spiking electrodes","width":103,"height":70,"data":{"name":"D"},"transform":[{"filter":"datum.m=='p'"}],
"encoding":{"x":{"field":"w","type":"ordinal","scale":{"type":"point","padding":0.6},"axis":{"title":null,"offset":7}}},
"layer":[
{"mark":{"type":"line","strokeWidth":1.2},"encoding":{"y":{"field":"v","type":"quantitative","title":"% overall electrodes","scale":{"domain":[0,100],"nice":false},"axis":{"values":[0,20,40,60,80,100]}},"stroke":{"field":"s","type":"nominal","scale":{"domain":["Heteroclonal hiPSC-A and -MN (CIPS + CS25)","Heteroclonal hiPSC-A and -MN (GM01582 + CS25)","Isoclonal hiPSC-A and -MN (CS25 + CS25)"],"range":["#111111","#ee6b6b","#3030dd"]}}}},
{"mark":{"type":"errorbar","ticks":{"size":4},"color":"#111"},"encoding":{"y":{"field":"lo","type":"quantitative","title":"% overall electrodes"},"y2":{"field":"hi"},"detail":{"field":"s"}}}]},
{"title":"Bursting electrodes","width":103,"height":70,"data":{"name":"D"},"transform":[{"filter":"datum.m=='b'"}],
"encoding":{"x":{"field":"w","type":"ordinal","scale":{"type":"point","padding":0.6},"axis":{"title":null,"offset":7}}},
"layer":[
{"mark":{"type":"line","strokeWidth":1.2},"encoding":{"y":{"field":"v","type":"quantitative","title":"% overall electrodes","scale":{"domain":[0,100],"nice":false},"axis":{"values":[0,20,40,60,80,100]}},"stroke":{"field":"s","type":"nominal","scale":{"domain":["Heteroclonal hiPSC-A and -MN (CIPS + CS25)","Heteroclonal hiPSC-A and -MN (GM01582 + CS25)","Isoclonal hiPSC-A and -MN (CS25 + CS25)"],"range":["#111111","#ee6b6b","#3030dd"]}}}},
{"mark":{"type":"errorbar","ticks":{"size":4},"color":"#111"},"encoding":{"y":{"field":"lo","type":"quantitative","title":"% overall electrodes"},"y2":{"field":"hi"},"detail":{"field":"s"}}}]}]},
{"title":"Consistently active electrodes","width":120,"height":77,"data":{"name":"Db"},
"encoding":{"x":{"field":"s","type":"nominal","sort":["Heteroclonal hiPSC-A and -MN (CIPS + CS25)","Heteroclonal hiPSC-A and -MN (GM01582 + CS25)","Isoclonal hiPSC-A and -MN (CS25 + CS25)"],"scale":{"paddingInner":0.5,"paddingOuter":0.15},"axis":{"title":null,"labels":false,"ticks":false}}},
"layer":[
{"mark":{"type":"bar","fill":"white","strokeWidth":1.6},"encoding":{"y":{"field":"v","type":"quantitative","title":"% overall electrodes","scale":{"domain":[0,100],"nice":false},"axis":{"values":[0,20,40,60,80,100]}},"stroke":{"field":"s","type":"nominal","scale":{"domain":["Heteroclonal hiPSC-A and -MN (CIPS + CS25)","Heteroclonal hiPSC-A and -MN (GM01582 + CS25)","Isoclonal hiPSC-A and -MN (CS25 + CS25)"],"range":["#111111","#ee6b6b","#3030dd"]},"legend":{"offset":6,"labelFontSize":7.2,"labelExpr":"[slice(datum.label,0,indexof(datum.label,' (')), slice(datum.label,indexof(datum.label,' (')+1)]"}}}},
{"mark":{"type":"errorbar","ticks":{"size":9},"color":"#111"},"encoding":{"y":{"field":"lo","type":"quantitative","title":"% overall electrodes"},"y2":{"field":"hi"}}}]}
]},
{"title":{"text":"E","orient":"left","anchor":"end","angle":0,"fontSize":16,"fontWeight":"bold","offset":-10,"align":"right","baseline":"top","frame":"bounds"},"spacing":18,
"hconcat":[{"spacing":3,"hconcat":[
{"title":"Spike frequency","width":103,"height":70,"data":{"name":"E"},"transform":[{"filter":"datum.m=='f'"}],
"encoding":{"x":{"field":"w","type":"ordinal","scale":{"type":"point","padding":0.6},"axis":{"title":null,"offset":7}}},
"layer":[
{"mark":{"type":"line","strokeWidth":1.2},"encoding":{"y":{"field":"v","type":"quantitative","title":"Hz","scale":{"domain":[0,3],"nice":false},"axis":{"values":[0,1,2,3]}},"stroke":{"field":"s","type":"nominal","scale":{"domain":["Human astrocytes (hiPSC-A)","Mouse astrocytes (primary)"],"range":["#111111","#7d7de8"]},"legend":{"title":" ","titleFontSize":26,"titlePadding":4}}}},
{"mark":{"type":"errorbar","ticks":{"size":4},"color":"#111"},"encoding":{"y":{"field":"lo","type":"quantitative","title":"Hz"},"y2":{"field":"hi"},"detail":{"field":"s"}}},
{"transform":[{"filter":"datum.sig!=''"}],"mark":{"type":"text","dy":-2,"fontSize":10,"fontWeight":"bold","color":"#111"},"encoding":{"y":{"field":"hi","type":"quantitative","title":"Hz"},"text":{"field":"sig"}}}]},
{"title":"Spiking electrodes","width":103,"height":70,"data":{"name":"E"},"transform":[{"filter":"datum.m=='p'"}],
"encoding":{"x":{"field":"w","type":"ordinal","scale":{"type":"point","padding":0.6},"axis":{"title":null,"offset":7}}},
"layer":[
{"mark":{"type":"line","strokeWidth":1.2},"encoding":{"y":{"field":"v","type":"quantitative","title":"% overall electrodes","scale":{"domain":[0,100],"nice":false},"axis":{"values":[0,20,40,60,80,100]}},"stroke":{"field":"s","type":"nominal","scale":{"domain":["Human astrocytes (hiPSC-A)","Mouse astrocytes (primary)"],"range":["#111111","#7d7de8"]}}}},
{"mark":{"type":"errorbar","ticks":{"size":4},"color":"#111"},"encoding":{"y":{"field":"lo","type":"quantitative","title":"% overall electrodes"},"y2":{"field":"hi"},"detail":{"field":"s"}}},
{"transform":[{"filter":"datum.sig!=''"}],"mark":{"type":"text","dy":-2,"fontSize":10,"fontWeight":"bold","color":"#111"},"encoding":{"y":{"field":"hi","type":"quantitative","title":"% overall electrodes"},"text":{"field":"sig"}}}]},
{"title":"Bursting electrodes","width":103,"height":70,"data":{"name":"E"},"transform":[{"filter":"datum.m=='b'"}],
"encoding":{"x":{"field":"w","type":"ordinal","scale":{"type":"point","padding":0.6},"axis":{"title":null,"offset":7}}},
"layer":[
{"mark":{"type":"line","strokeWidth":1.2},"encoding":{"y":{"field":"v","type":"quantitative","title":"% overall electrodes","scale":{"domain":[0,100],"nice":false},"axis":{"values":[0,20,40,60,80,100]}},"stroke":{"field":"s","type":"nominal","scale":{"domain":["Human astrocytes (hiPSC-A)","Mouse astrocytes (primary)"],"range":["#111111","#7d7de8"]}}}},
{"mark":{"type":"errorbar","ticks":{"size":4},"color":"#111"},"encoding":{"y":{"field":"lo","type":"quantitative","title":"% overall electrodes"},"y2":{"field":"hi"},"detail":{"field":"s"}}},
{"transform":[{"filter":"datum.sig!=''"}],"mark":{"type":"text","dy":-2,"fontSize":10,"fontWeight":"bold","color":"#111"},"encoding":{"y":{"field":"hi","type":"quantitative","title":"% overall electrodes"},"text":{"field":"sig"}}}]}]},
{"title":"Consistently active electrodes","width":120,"height":77,"data":{"name":"Eb"},
"encoding":{"x":{"field":"s","type":"nominal","sort":["Mouse astrocytes (primary)","Human astrocytes (hiPSC-A)"],"scale":{"paddingInner":0.45,"paddingOuter":0.35},"axis":{"title":null,"labels":false,"ticks":false}}},
"layer":[
{"mark":{"type":"bar","filled":false,"strokeWidth":1.6},"encoding":{"y":{"field":"v","type":"quantitative","title":"% overall electrodes","scale":{"domain":[0,100],"nice":false},"axis":{"values":[0,20,40,60,80,100]}},"color":{"field":"s","type":"nominal","scale":{"domain":["Human astrocytes (hiPSC-A)","Mouse astrocytes (primary)"],"range":["#111111","#3d3de8"]},"legend":null}}},
{"mark":{"type":"errorbar","ticks":{"size":9},"color":"#111"},"encoding":{"y":{"field":"lo","type":"quantitative","title":"% overall electrodes"},"y2":{"field":"hi"}}},
{"transform":[{"filter":"datum.sig!=''"}],"mark":{"type":"text","dy":-2,"fontSize":10,"fontWeight":"bold","color":"#111"},"encoding":{"y":{"field":"hi","type":"quantitative","title":"% overall electrodes"},"text":{"field":"sig"}}}]}
]}
]
}
